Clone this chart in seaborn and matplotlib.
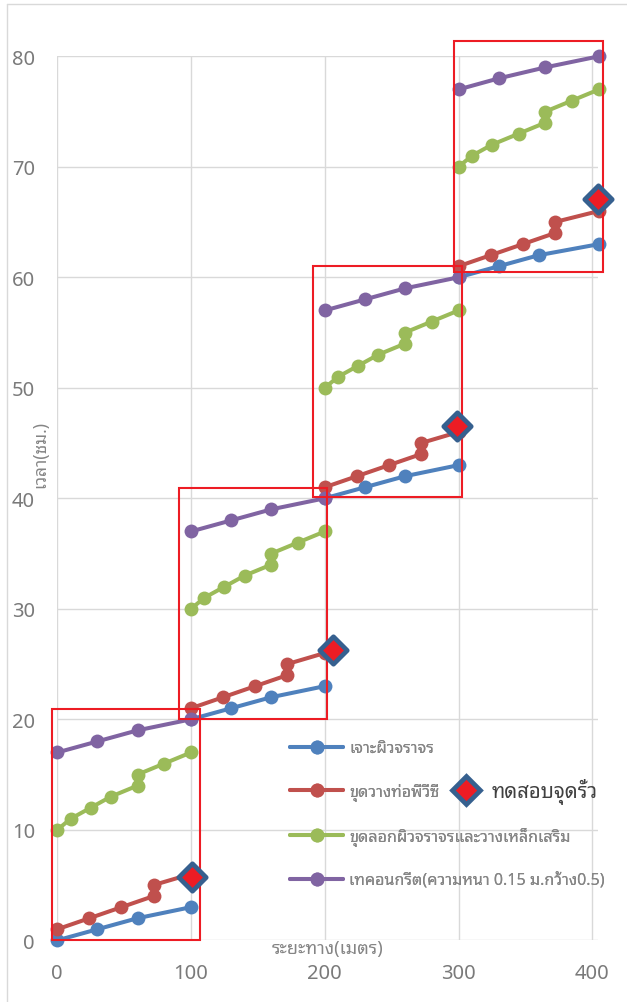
import matplotlib
matplotlib.use("Agg")
import matplotlib.pyplot as plt
from matplotlib import font_manager
from matplotlib.font_manager import FontProperties
from matplotlib.lines import Line2D
from matplotlib.patches import Rectangle
import numpy as np
import pandas as pd
import seaborn as sns

# ---- data -------------------------------------------------------------
tasks = [
    "เจาะผิวจราจร",
    "ขุดวางท่อพีวีซี",
    "ขุดลอกผิวจราจรและวางเหล็กเสริม",
    "เทคอนกรีต(ความหนา 0.15 ม.กว้าง0.5)",
]
test_label = "ทดสอบจุดรั่ว"

drill_x = [0, 30, 60, 100, 100, 130, 160, 200, 200, 230, 260, 300, 300, 330, 360, 405]
drill_y = [0, 1, 2, 3, 20, 21, 22, 23, 40, 41, 42, 43, 60, 61, 62, 63]
drill_seg = [1, 1, 1, 1, 2, 2, 2, 2, 3, 3, 3, 3, 4, 4, 4, 4]

pipe_x = [0, 24, 48, 72, 72, 100, 100, 124, 148, 172, 172, 200,
          200, 224, 248, 272, 272, 300, 300, 324, 348, 372, 372, 405]
pipe_y = [1, 2, 3, 4, 5, 6, 21, 22, 23, 24, 25, 26,
          41, 42, 43, 44, 45, 46, 61, 62, 63, 64, 65, 66]
pipe_seg = [1] * 6 + [2] * 6 + [3] * 6 + [4] * 6

steel_x = [0, 10, 25, 40, 60, 60, 80, 100, 100, 110, 125, 140, 160, 160, 180, 200,
           200, 210, 225, 240, 260, 260, 280, 300, 300, 310, 325, 345, 365, 365, 385, 405]
steel_y = [10, 11, 12, 13, 14, 15, 16, 17, 30, 31, 32, 33, 34, 35, 36, 37,
           50, 51, 52, 53, 54, 55, 56, 57, 70, 71, 72, 73, 74, 75, 76, 77]
steel_seg = [1] * 8 + [2] * 8 + [3] * 8 + [4] * 8

concrete_x = [0, 30, 60, 100, 100, 130, 160, 200, 200, 230, 260, 300, 300, 330, 365, 405]
concrete_y = [17, 18, 19, 20, 37, 38, 39, 40, 57, 58, 59, 60, 77, 78, 79, 80]
concrete_seg = [1, 1, 1, 1, 2, 2, 2, 2, 3, 3, 3, 3, 4, 4, 4, 4]

test_x = [101, 206, 299, 404]
test_y = [5.7, 26.3, 46.5, 67.1]

x_ticks = [0, 100, 200, 300, 400]
y_ticks = [0, 10, 20, 30, 40, 50, 60, 70, 80]

colors = ["#4F81BD", "#C0504D", "#9BBB59", "#8064A2"]

# ---- fonts ------------------------------------------------------------
sns.set_theme(style="white")
installed = {f.name for f in font_manager.fontManager.ttflist}
thai_font = next((f for f in ["Noto Sans Thai Looped", "Noto Sans Thai", "Sarabun",
                              "Leelawadee UI", "Tahoma"] if f in installed), "DejaVu Sans")
latin_font = "Noto Sans" if "Noto Sans" in installed else "DejaVu Sans"
plt.rcParams["font.family"] = [latin_font, thai_font, "DejaVu Sans"]
fam = [latin_font, thai_font, "DejaVu Sans"]

# ---- frame ------------------------------------------------------------
W, H = 627, 1003
fig = plt.figure(figsize=(W / 100, H / 100), dpi=100)
ax = fig.add_axes([57.3 / W, 1 - 941.3 / H, (598.3 - 57.3) / W, (941.3 - 57.3) / H])

frames = []
for name, xs, ys, segs in [
    (tasks[0], drill_x, drill_y, drill_seg),
    (tasks[1], pipe_x, pipe_y, pipe_seg),
    (tasks[2], steel_x, steel_y, steel_seg),
    (tasks[3], concrete_x, concrete_y, concrete_seg),
]:
    frames.append(pd.DataFrame({"x": xs, "y": ys, "task": name, "seg": segs}))
df = pd.concat(frames, ignore_index=True)

sns.lineplot(data=df, x="x", y="y", hue="task", hue_order=tasks, units="seg",
             estimator=None, sort=False, palette=colors, marker="o",
             markersize=10, markeredgewidth=0, linewidth=2.9, legend=False,
             ax=ax, clip_on=False, zorder=3)

# stage boxes
boxes = [(-4.2, 0.0, 107.0, 20.9), (91.2, 20.0, 201.4, 40.9),
         (191.4, 40.1, 302.6, 61.0), (296.4, 60.5, 408.3, 81.4)]
for x0, y0, x1, y1 in boxes:
    ax.add_patch(Rectangle((x0, y0), x1 - x0, y1 - y0, fill=False,
                           edgecolor="#ED1C24", lw=1.5, zorder=4, clip_on=False))

# leak tests
test_df = pd.DataFrame({"x": test_x, "y": test_y})
sns.scatterplot(data=test_df, x="x", y="y", marker="D", s=195, color="#ED1C24",
                edgecolor="#36608F", linewidth=3.4, ax=ax, zorder=6, clip_on=False)

ax.set_xlim(0, 404.5)
ax.set_ylim(0, 80)
ax.set_xticks(x_ticks)
ax.set_yticks(y_ticks)
ax.set_xlabel("")
ax.set_ylabel("")
for s in ax.spines.values():
    s.set_visible(False)
ax.grid(True, color="#D9D9D9", lw=1.0)
ax.set_axisbelow(True)
ax.tick_params(axis="both", length=0, pad=16, labelsize=14.5, labelcolor="#7A7A7A")
for lab in ax.get_xticklabels() + ax.get_yticklabels():
    lab.set_fontfamily(fam)

fig.text(327.5 / W, 1 - 949 / H, "ระยะทาง(เมตร)", ha="center", va="center",
         fontsize=13, color="#858585", family=fam)
fig.text(40 / W, 1 - 454 / H, "เวลา(ชม.)", ha="center", va="center", rotation=90,
         fontsize=12.5, color="#858585", family=fam)

# legends
handles = [Line2D([0], [0], color=c, lw=2.9, marker="o", ms=10, mew=0) for c in colors]
leg = fig.legend(handles, tasks, loc="upper left",
                 bbox_to_anchor=(290 / W, 1 - 741.5 / H), bbox_transform=fig.transFigure,
                 frameon=False, borderpad=0, borderaxespad=0,
                 handlelength=3.3, handletextpad=0.37, labelspacing=1.62,
                 prop=FontProperties(family=fam, size=11.6), labelcolor="#858585")
fig.add_artist(leg)

dh = Line2D([0], [0], ls="none", marker="D", ms=13.9, mfc="#ED1C24",
            mec="#36608F", mew=3.4)
leg2 = fig.legend([dh], [test_label], loc="center left",
                  bbox_to_anchor=(454 / W, 1 - 792.3 / H), bbox_transform=fig.transFigure,
                  frameon=False, borderpad=0, borderaxespad=0,
                  handlelength=1.15, handletextpad=0.7,
                  prop=FontProperties(family=fam, size=14.6), labelcolor="#404040")

# chart border
fig.add_artist(Line2D([7 / W, 7 / W], [0, 1 - 5 / H], transform=fig.transFigure,
                      color="#D9D9D9", lw=1.0))
fig.add_artist(Line2D([7 / W, 1], [1 - 5 / H, 1 - 5 / H], transform=fig.transFigure,
                      color="#D9D9D9", lw=1.0))

fig.savefig("out.png", dpi=100)
